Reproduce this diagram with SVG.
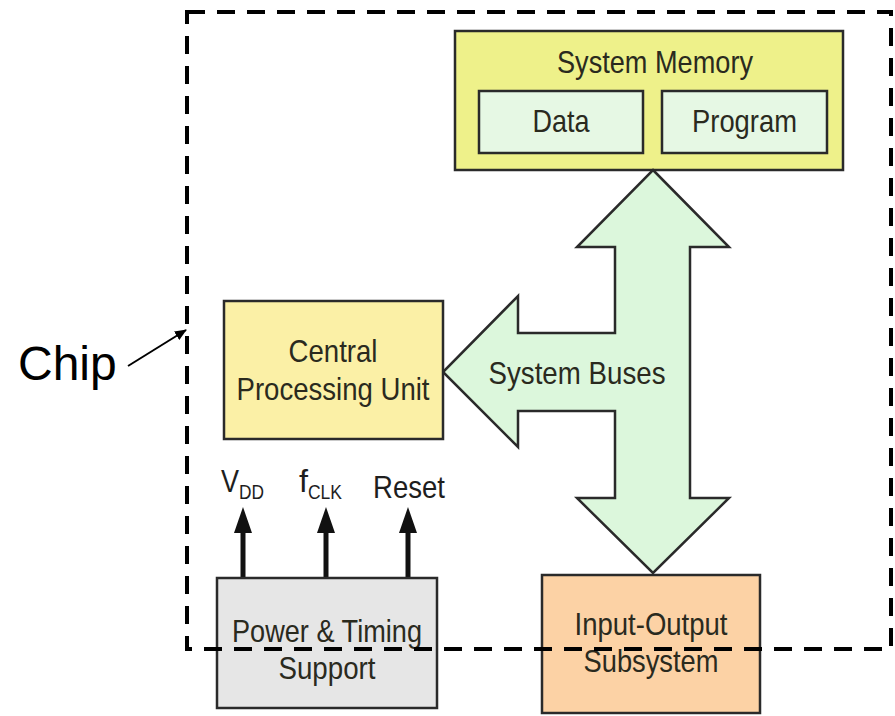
<svg xmlns="http://www.w3.org/2000/svg" width="895" height="716" viewBox="0 0 895 716">
<style>
  .box { stroke: #2a2a2a; stroke-width: 2.5; }
  .lbl { font-family: "Liberation Sans", Arial, sans-serif; font-size: 32px; fill: #2a2a1e; text-anchor: middle; }
  .sig { font-family: "Liberation Sans", Arial, sans-serif; font-size: 32px; fill: #1e1e1e; }
  .sub { font-size: 20px; }
</style>
<defs>
  <marker id="thin" markerWidth="12" markerHeight="10" refX="11" refY="5" orient="auto" markerUnits="userSpaceOnUse">
    <path d="M0,0 L12,5 L0,10 Z" fill="#000"/>
  </marker>
</defs>
<rect width="895" height="716" fill="#ffffff"/>

<g id="system-memory">
  <rect class="box" x="455" y="31" width="388" height="139" fill="#eef18a"/>
  <text class="lbl" x="655" y="73" textLength="196" lengthAdjust="spacingAndGlyphs">System Memory</text>
  <g id="data">
    <rect class="box" x="479" y="91" width="164" height="62" fill="#e6f8e4"/>
    <text class="lbl" x="561" y="132" textLength="57" lengthAdjust="spacingAndGlyphs">Data</text>
  </g>
  <g id="program">
    <rect class="box" x="662" y="91" width="165" height="62" fill="#e6f8e4"/>
    <text class="lbl" x="744.5" y="132" textLength="105" lengthAdjust="spacingAndGlyphs">Program</text>
  </g>
</g>

<g id="connectors">
  <g id="system-buses">
    <path class="box" fill="#dcf7dc" d="M653,170 L729,247 L690,247 L690,498 L729,498 L653,573 L577,498 L615,498 L615,411 L518,411 L518,447 L443,372 L518,296 L518,333 L615,333 L615,247 L577,247 Z"/>
    <text class="lbl" x="577" y="384" textLength="177" lengthAdjust="spacingAndGlyphs">System Buses</text>
  </g>
  <g id="signal-arrows" fill="#111" stroke="#111">
    <line x1="243" y1="578" x2="243" y2="530" stroke-width="5"/>
    <polygon points="243,507 234,533 252,533" stroke="none"/>
    <line x1="326" y1="578" x2="326" y2="530" stroke-width="5"/>
    <polygon points="326,507 317,533 335,533" stroke="none"/>
    <line x1="408" y1="578" x2="408" y2="530" stroke-width="5"/>
    <polygon points="408,507 399,533 417,533" stroke="none"/>
  </g>
  <line id="chip-pointer" x1="128" y1="366" x2="186" y2="330" stroke="#000" stroke-width="2" marker-end="url(#thin)"/>
</g>

<g id="cpu">
  <rect class="box" x="224" y="301" width="219" height="138" fill="#fbf0a6"/>
  <text class="lbl" x="333" y="362" textLength="89" lengthAdjust="spacingAndGlyphs">Central</text>
  <text class="lbl" x="333" y="400" textLength="193" lengthAdjust="spacingAndGlyphs">Processing Unit</text>
</g>

<g id="power-timing">
  <rect class="box" x="217" y="578" width="220" height="130" fill="#e6e6e6"/>
  <text class="lbl" x="327" y="642" textLength="190" lengthAdjust="spacingAndGlyphs">Power &amp; Timing</text>
  <text class="lbl" x="327" y="679" textLength="97" lengthAdjust="spacingAndGlyphs">Support</text>
</g>

<g id="signal-labels">
  <text class="sig" x="221" y="492"><tspan textLength="18" lengthAdjust="spacingAndGlyphs">V</tspan><tspan class="sub" dy="7" textLength="25" lengthAdjust="spacingAndGlyphs">DD</tspan></text>
  <text class="sig" x="299" y="492"><tspan textLength="9" lengthAdjust="spacingAndGlyphs">f</tspan><tspan class="sub" dy="7" textLength="34" lengthAdjust="spacingAndGlyphs">CLK</tspan></text>
  <text class="sig" x="373" y="498" textLength="72" lengthAdjust="spacingAndGlyphs">Reset</text>
</g>

<g id="io-subsystem">
  <rect class="box" x="542" y="575" width="218" height="138" fill="#fcd2a5"/>
  <text class="lbl" x="651" y="635" textLength="153" lengthAdjust="spacingAndGlyphs">Input-Output</text>
  <text class="lbl" x="651" y="672" textLength="135" lengthAdjust="spacingAndGlyphs">Subsystem</text>
</g>

<g id="chip">
  <rect x="187" y="12" width="704" height="637" fill="none" stroke="#000" stroke-width="4" stroke-dasharray="18 12"/>
  <text x="18" y="380" font-family="Liberation Sans, Arial, sans-serif" font-size="48" fill="#000">Chip</text>
</g>
</svg>
